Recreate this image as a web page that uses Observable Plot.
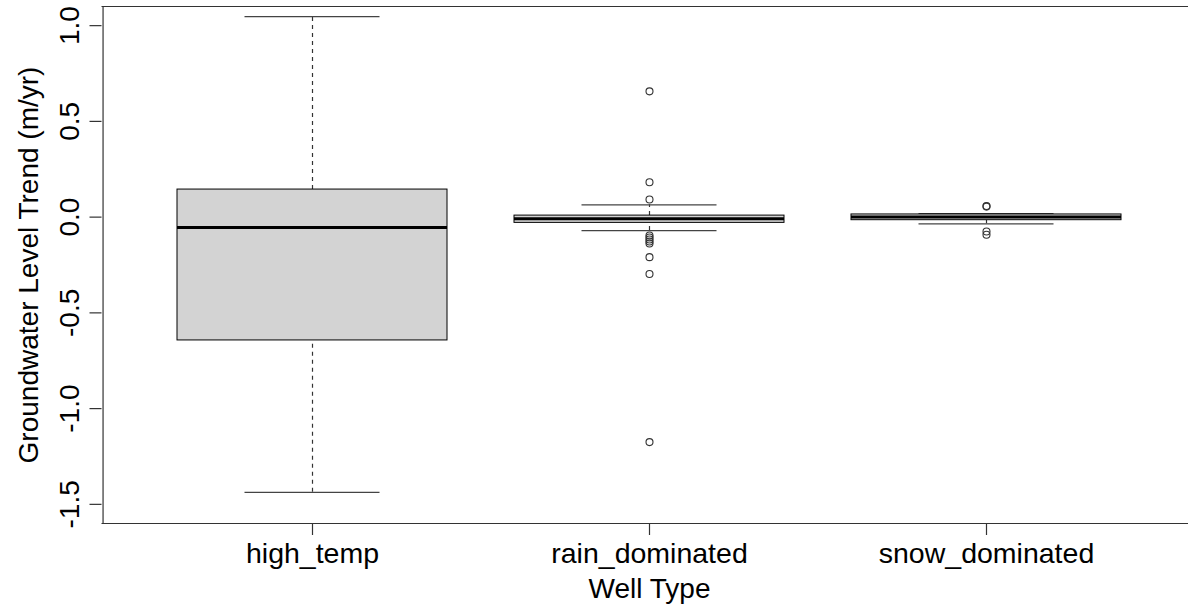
<!DOCTYPE html>
<html>
<head>
<meta charset="utf-8">
<script src="https://cdn.jsdelivr.net/npm/d3@7"></script>
<script src="https://cdn.jsdelivr.net/npm/@observablehq/plot@0.6"></script>
<style>
  html, body { margin: 0; padding: 0; background: #fff; }
  svg { display: block; }
</style>
</head>
<body>
<div id="chart"></div>
<script>
const categories = ["high_temp", "rain_dominated", "snow_dominated"];
const whiskerLow  = [-1.437, -0.070, -0.035];
const q1          = [-0.644, -0.030, -0.016];
const median      = [-0.054, -0.008,  0.001];
const q3          = [ 0.144,  0.008,  0.014];
const whiskerHigh = [ 1.047,  0.064,  0.018];
const rainOutliers = [0.657, 0.182, 0.092, -0.096, -0.106, -0.117, -0.127, -0.138, -0.209, -0.297, -1.175];
const snowOutliers = [0.058, 0.055, -0.075, -0.092];
const yTicks = [-1.5, -1.0, -0.5, 0.0, 0.5, 1.0];
const xLabel = "Well Type";
const yLabel = "Groundwater Level Trend (m/yr)";

const boxes = categories.map((c, i) => ({
  cat: c, lo: whiskerLow[i], q1: q1[i], med: median[i], q3: q3[i], hi: whiskerHigh[i]
}));
const outliers = [
  ...rainOutliers.map(v => ({cat: categories[1], v})),
  ...snowOutliers.map(v => ({cat: categories[2], v}))
];

const font = "Liberation Sans, Arial, sans-serif";
const fmt = v => d3.format(".1f")(v).replace("\u2212", "-");
const yDomain = [-1.6, 1.1];

// x band scale settings (the plot region extends slightly past the right edge, as in the original)
const xRange = [101.5, 1196];
const padIn = 0.2, padOut = 0.22;
const xScale = d3.scaleBand().domain(categories).range(xRange).paddingInner(padIn).paddingOuter(padOut);
const leftOffset = xRange[0] - (xScale(categories[0]) + xScale.bandwidth() / 2);

const chart = Plot.plot({
  width: 1188,
  height: 609,
  marginLeft: 101.5,
  marginRight: 0,
  marginTop: 6,
  marginBottom: 86,
  style: {fontFamily: font, fontSize: "28px", color: "#000", background: "#fff"},
  x: {type: "band", domain: categories, range: xRange, paddingInner: padIn, paddingOuter: padOut, axis: null},
  y: {domain: yDomain, axis: null},
  marks: [
    // plot region border: top, bottom, left (right side is beyond the image)
    Plot.ruleY(yDomain, {stroke: "#333", strokeWidth: 1.2}),
    Plot.ruleX([categories[0]], {x: d => d, dx: leftOffset, stroke: "#333", strokeWidth: 1.2}),
    // whiskers (dashed)
    Plot.ruleX(boxes, {x: "cat", y1: "q3", y2: "hi", stroke: "#333", strokeWidth: 1.2, strokeDasharray: "4,4"}),
    Plot.ruleX(boxes, {x: "cat", y1: "lo", y2: "q1", stroke: "#333", strokeWidth: 1.2, strokeDasharray: "4,4"}),
    // staples
    Plot.tickY(boxes, {x: "cat", y: "hi", stroke: "#444", strokeWidth: 1.2, insetLeft: 67.5, insetRight: 67.5}),
    Plot.tickY(boxes, {x: "cat", y: "lo", stroke: "#444", strokeWidth: 1.2, insetLeft: 67.5, insetRight: 67.5}),
    // boxes
    Plot.barY(boxes, {x: "cat", y1: "q1", y2: "q3", fill: "#d3d3d3", stroke: "#000", strokeWidth: 1}),
    // medians
    Plot.tickY(boxes, {x: "cat", y: "med", stroke: "#000", strokeWidth: 3}),
    // outliers
    Plot.dot(outliers, {x: "cat", y: "v", r: 3.5, stroke: "#333", strokeWidth: 1.1, fill: "none"}),
    // y axis ticks and labels
    Plot.axisY({ticks: yTicks, tickSize: 12, tickFormat: () => "", stroke: "#333", strokeWidth: 1.2, label: null}),
    Plot.text(yTicks, {y: d => d, text: d => fmt(d), frameAnchor: "left", rotate: -90, dx: -31.5, textAnchor: "middle", lineAnchor: "middle", fontSize: 28, fill: "#000"}),
    // x axis ticks and labels
    Plot.axisX({tickSize: 12, tickPadding: 7, stroke: "#333", strokeWidth: 1.2, fontSize: 28.5, label: null}),
    // axis titles
    Plot.text([xLabel], {x: [categories[1]], text: d => d, frameAnchor: "bottom", lineAnchor: "top", dy: 55, fontSize: 28, fill: "#000"}),
    Plot.text([yLabel], {text: d => d, frameAnchor: "left", rotate: -90, dx: -72.5, textAnchor: "middle", lineAnchor: "middle", fontSize: 28, fill: "#000"})
  ]
});
document.getElementById("chart").appendChild(chart);
</script>
</body>
</html>
